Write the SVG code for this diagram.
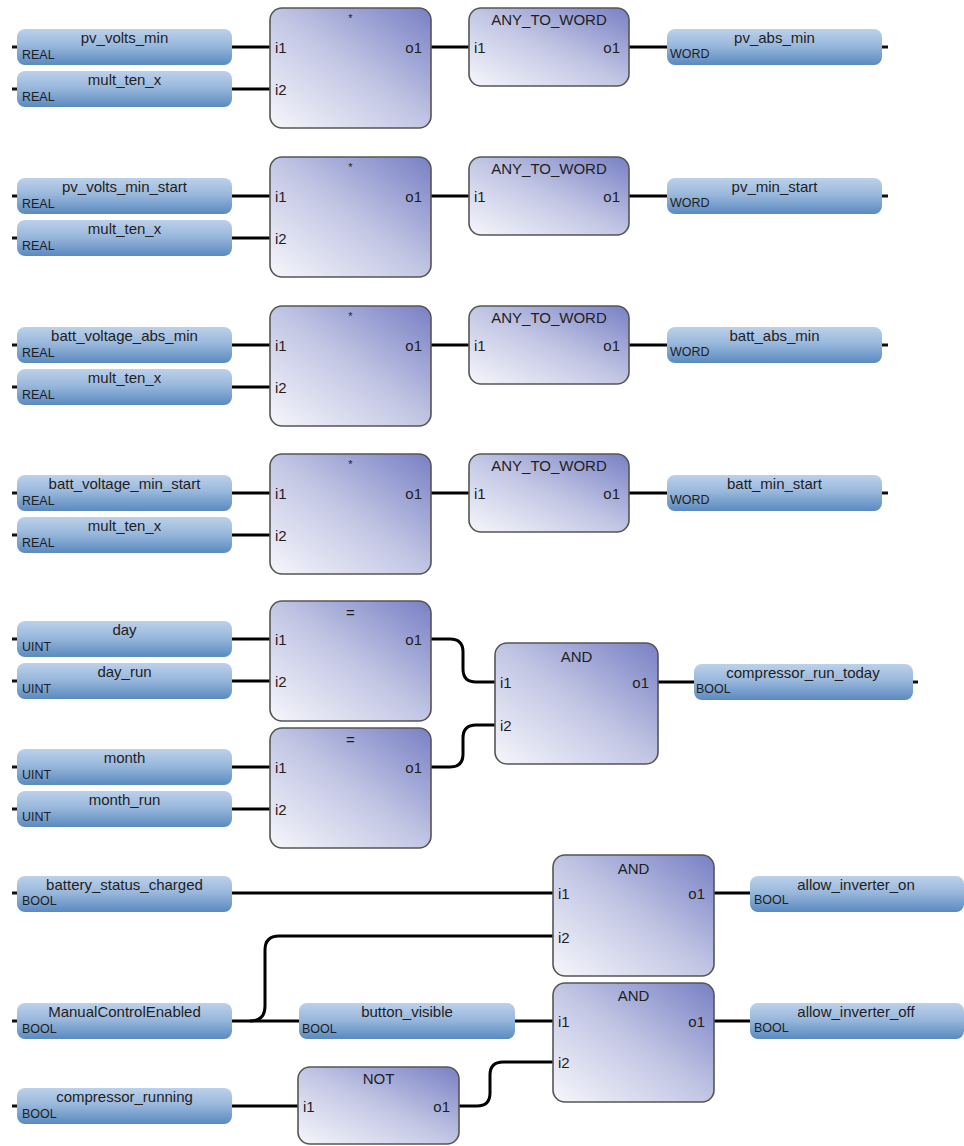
<svg xmlns="http://www.w3.org/2000/svg" width="964" height="1146" viewBox="0 0 964 1146">
<style>
text{font-family:"Liberation Sans",Arial,sans-serif;fill:#1e1e1e}
.nm{font-size:15px;text-anchor:middle}
.ty{font-size:12.5px}
.pt{font-size:15px}
.pe{font-size:15px;text-anchor:end}
.ti{font-size:15px;text-anchor:middle}
.bar{fill:url(#gBar)}
.blk{fill:url(#gBlk);stroke:#555;stroke-width:1.6}
.stub{stroke:#111;stroke-width:3}
.w{fill:none;stroke:#000;stroke-width:3}
</style>
<defs>
<linearGradient id="gBar" x1="0" y1="0" x2="0" y2="1">
<stop offset="0" stop-color="#bcd1ea"/>
<stop offset="0.45" stop-color="#9ab8dc"/>
<stop offset="1" stop-color="#5a8abf"/>
</linearGradient>
<linearGradient id="gBlk" x1="0" y1="1" x2="1" y2="0">
<stop offset="0" stop-color="#f6f6fb"/>
<stop offset="0.5" stop-color="#c2c6e4"/>
<stop offset="1" stop-color="#7880c4"/>
</linearGradient>
</defs>
<rect width="964" height="1146" fill="#fff"/>

<g id="connectors">
<!-- row 1 -->
<path class="w" d="M232,47H270M232,89H270M431,47H469M629,47H667"/>
<path class="w" d="M232,196H270M232,238H270M431,196H469M629,196H667"/>
<path class="w" d="M232,345H270M232,387H270M431,345H469M629,345H667"/>
<path class="w" d="M232,493H270M232,535H270M431,493H469M629,493H667"/>
<!-- row 5 -->
<path class="w" d="M232,639H270M232,681H270M232,767H270M232,809H270M658,682H694"/>
<path class="w" d="M431,639H450Q463,639 463,652V669Q463,682 476,682H495"/>
<path class="w" d="M431,767H450Q463,767 463,754V738Q463,725 476,725H495"/>
<!-- row 6 -->
<path class="w" d="M232,893H553M714,893H750"/>
<path class="w" d="M232,1021H299M515,1021H553M714,1021H750"/>
<path class="w" d="M250,1021Q265,1021 265,1006V950Q265,936 279,936H553"/>
<path class="w" d="M232,1106H298"/>
<path class="w" d="M459,1106H477Q490,1106 490,1093V1075Q490,1062 503,1062H553"/>
</g>

<!-- Row 1 -->
<g id="in_pv_volts_min"><line class="stub" x1="12" y1="47" x2="18" y2="47"/><rect class="bar" x="17" y="29" width="215" height="36" rx="8"/><text class="nm" x="124.5" y="43">pv_volts_min</text><text class="ty" x="22" y="59">REAL</text></g>
<g id="in_mult_ten_x_1"><line class="stub" x1="12" y1="89" x2="18" y2="89"/><rect class="bar" x="17" y="71" width="215" height="36" rx="8"/><text class="nm" x="124.5" y="85">mult_ten_x</text><text class="ty" x="22" y="101">REAL</text></g>
<g id="mul_1"><rect class="blk" x="270" y="8" width="161" height="120" rx="12"/><text class="ti" x="350.5" y="22" style="font-size:11px">*</text><text class="pt" x="275" y="53">i1</text><text class="pt" x="275" y="95">i2</text><text class="pe" x="422" y="53">o1</text></g>
<g id="conv_1"><rect class="blk" x="469" y="8" width="160" height="78" rx="12"/><text class="ti" x="549" y="25">ANY_TO_WORD</text><text class="pt" x="474" y="53">i1</text><text class="pe" x="620" y="53">o1</text></g>
<g id="out_pv_abs_min"><line class="stub" x1="881" y1="47" x2="888" y2="47"/><rect class="bar" x="667" y="29" width="215" height="36" rx="8"/><text class="nm" x="774.5" y="43">pv_abs_min</text><text class="ty" x="670" y="58">WORD</text></g>

<!-- Row 2 -->
<g id="in_pv_volts_min_start"><line class="stub" x1="12" y1="196" x2="18" y2="196"/><rect class="bar" x="17" y="178" width="215" height="36" rx="8"/><text class="nm" x="124.5" y="192">pv_volts_min_start</text><text class="ty" x="22" y="208">REAL</text></g>
<g id="in_mult_ten_x_2"><line class="stub" x1="12" y1="238" x2="18" y2="238"/><rect class="bar" x="17" y="220" width="215" height="36" rx="8"/><text class="nm" x="124.5" y="234">mult_ten_x</text><text class="ty" x="22" y="250">REAL</text></g>
<g id="mul_2"><rect class="blk" x="270" y="157" width="161" height="120" rx="12"/><text class="ti" x="350.5" y="171" style="font-size:11px">*</text><text class="pt" x="275" y="202">i1</text><text class="pt" x="275" y="244">i2</text><text class="pe" x="422" y="202">o1</text></g>
<g id="conv_2"><rect class="blk" x="469" y="157" width="160" height="78" rx="12"/><text class="ti" x="549" y="174">ANY_TO_WORD</text><text class="pt" x="474" y="202">i1</text><text class="pe" x="620" y="202">o1</text></g>
<g id="out_pv_min_start"><line class="stub" x1="881" y1="196" x2="888" y2="196"/><rect class="bar" x="667" y="178" width="215" height="36" rx="8"/><text class="nm" x="774.5" y="192">pv_min_start</text><text class="ty" x="670" y="207">WORD</text></g>

<!-- Row 3 -->
<g id="in_batt_voltage_abs_min"><line class="stub" x1="12" y1="345" x2="18" y2="345"/><rect class="bar" x="17" y="327" width="215" height="36" rx="8"/><text class="nm" x="124.5" y="341">batt_voltage_abs_min</text><text class="ty" x="22" y="357">REAL</text></g>
<g id="in_mult_ten_x_3"><line class="stub" x1="12" y1="387" x2="18" y2="387"/><rect class="bar" x="17" y="369" width="215" height="36" rx="8"/><text class="nm" x="124.5" y="383">mult_ten_x</text><text class="ty" x="22" y="399">REAL</text></g>
<g id="mul_3"><rect class="blk" x="270" y="306" width="161" height="120" rx="12"/><text class="ti" x="350.5" y="320" style="font-size:11px">*</text><text class="pt" x="275" y="351">i1</text><text class="pt" x="275" y="393">i2</text><text class="pe" x="422" y="351">o1</text></g>
<g id="conv_3"><rect class="blk" x="469" y="306" width="160" height="78" rx="12"/><text class="ti" x="549" y="323">ANY_TO_WORD</text><text class="pt" x="474" y="351">i1</text><text class="pe" x="620" y="351">o1</text></g>
<g id="out_batt_abs_min"><line class="stub" x1="881" y1="345" x2="888" y2="345"/><rect class="bar" x="667" y="327" width="215" height="36" rx="8"/><text class="nm" x="774.5" y="341">batt_abs_min</text><text class="ty" x="670" y="356">WORD</text></g>

<!-- Row 4 -->
<g id="in_batt_voltage_min_start"><line class="stub" x1="12" y1="493" x2="18" y2="493"/><rect class="bar" x="17" y="475" width="215" height="36" rx="8"/><text class="nm" x="124.5" y="489">batt_voltage_min_start</text><text class="ty" x="22" y="505">REAL</text></g>
<g id="in_mult_ten_x_4"><line class="stub" x1="12" y1="535" x2="18" y2="535"/><rect class="bar" x="17" y="517" width="215" height="36" rx="8"/><text class="nm" x="124.5" y="531">mult_ten_x</text><text class="ty" x="22" y="547">REAL</text></g>
<g id="mul_4"><rect class="blk" x="270" y="454" width="161" height="120" rx="12"/><text class="ti" x="350.5" y="468" style="font-size:11px">*</text><text class="pt" x="275" y="499">i1</text><text class="pt" x="275" y="541">i2</text><text class="pe" x="422" y="499">o1</text></g>
<g id="conv_4"><rect class="blk" x="469" y="454" width="160" height="78" rx="12"/><text class="ti" x="549" y="471">ANY_TO_WORD</text><text class="pt" x="474" y="499">i1</text><text class="pe" x="620" y="499">o1</text></g>
<g id="out_batt_min_start"><line class="stub" x1="881" y1="493" x2="888" y2="493"/><rect class="bar" x="667" y="475" width="215" height="36" rx="8"/><text class="nm" x="774.5" y="489">batt_min_start</text><text class="ty" x="670" y="504">WORD</text></g>

<!-- Row 5 -->
<g id="in_day"><line class="stub" x1="12" y1="639" x2="18" y2="639"/><rect class="bar" x="17" y="621" width="215" height="36" rx="8"/><text class="nm" x="124.5" y="635">day</text><text class="ty" x="22" y="651">UINT</text></g>
<g id="in_day_run"><line class="stub" x1="12" y1="681" x2="18" y2="681"/><rect class="bar" x="17" y="663" width="215" height="36" rx="8"/><text class="nm" x="124.5" y="677">day_run</text><text class="ty" x="22" y="693">UINT</text></g>
<g id="eq_1"><rect class="blk" x="270" y="601" width="161" height="120" rx="12"/><text class="ti" x="350.5" y="618">=</text><text class="pt" x="275" y="645">i1</text><text class="pt" x="275" y="687">i2</text><text class="pe" x="422" y="645">o1</text></g>
<g id="in_month"><line class="stub" x1="12" y1="767" x2="18" y2="767"/><rect class="bar" x="17" y="749" width="215" height="36" rx="8"/><text class="nm" x="124.5" y="763">month</text><text class="ty" x="22" y="779">UINT</text></g>
<g id="in_month_run"><line class="stub" x1="12" y1="809" x2="18" y2="809"/><rect class="bar" x="17" y="791" width="215" height="36" rx="8"/><text class="nm" x="124.5" y="805">month_run</text><text class="ty" x="22" y="821">UINT</text></g>
<g id="eq_2"><rect class="blk" x="270" y="728" width="161" height="120" rx="12"/><text class="ti" x="350.5" y="745">=</text><text class="pt" x="275" y="773">i1</text><text class="pt" x="275" y="815">i2</text><text class="pe" x="422" y="773">o1</text></g>
<g id="and_1"><rect class="blk" x="495" y="643" width="163" height="121" rx="12"/><text class="ti" x="576.5" y="662">AND</text><text class="pt" x="500" y="688">i1</text><text class="pt" x="500" y="731">i2</text><text class="pe" x="649" y="688">o1</text></g>
<g id="out_compressor_run_today"><line class="stub" x1="912" y1="682" x2="918" y2="682"/><rect class="bar" x="694" y="664" width="219" height="36" rx="8"/><text class="nm" x="803" y="678">compressor_run_today</text><text class="ty" x="696" y="693">BOOL</text></g>

<!-- Row 6 -->
<g id="in_battery_status_charged"><line class="stub" x1="12" y1="893" x2="18" y2="893"/><rect class="bar" x="17" y="876" width="215" height="36" rx="8"/><text class="nm" x="124.5" y="890">battery_status_charged</text><text class="ty" x="22" y="905">BOOL</text></g>
<g id="and_2"><rect class="blk" x="553" y="855" width="161" height="121" rx="12"/><text class="ti" x="633.5" y="874">AND</text><text class="pt" x="558" y="899">i1</text><text class="pt" x="558" y="943">i2</text><text class="pe" x="705" y="899">o1</text></g>
<g id="out_allow_inverter_on"><rect class="bar" x="750" y="876" width="214" height="36" rx="8"/><text class="nm" x="856" y="890">allow_inverter_on</text><text class="ty" x="754" y="904">BOOL</text></g>
<g id="in_ManualControlEnabled"><line class="stub" x1="12" y1="1021" x2="18" y2="1021"/><rect class="bar" x="17" y="1003" width="215" height="36" rx="8"/><text class="nm" x="124.5" y="1017">ManualControlEnabled</text><text class="ty" x="22" y="1033">BOOL</text></g>
<g id="var_button_visible"><rect class="bar" x="299" y="1003" width="216" height="36" rx="8"/><text class="nm" x="407" y="1017">button_visible</text><text class="ty" x="302" y="1033">BOOL</text></g>
<g id="and_3"><rect class="blk" x="553" y="983" width="161" height="119" rx="12"/><text class="ti" x="633.5" y="1001">AND</text><text class="pt" x="558" y="1027">i1</text><text class="pt" x="558" y="1068">i2</text><text class="pe" x="705" y="1027">o1</text></g>
<g id="out_allow_inverter_off"><rect class="bar" x="750" y="1003" width="214" height="36" rx="8"/><text class="nm" x="856" y="1017">allow_inverter_off</text><text class="ty" x="754" y="1032">BOOL</text></g>
<g id="in_compressor_running"><line class="stub" x1="12" y1="1106" x2="18" y2="1106"/><rect class="bar" x="17" y="1088" width="215" height="36" rx="8"/><text class="nm" x="124.5" y="1102">compressor_running</text><text class="ty" x="22" y="1118">BOOL</text></g>
<g id="not_1"><rect class="blk" x="298" y="1067" width="161" height="77" rx="12"/><text class="ti" x="378.5" y="1084">NOT</text><text class="pt" x="303" y="1112">i1</text><text class="pe" x="450" y="1112">o1</text></g>
</svg>
